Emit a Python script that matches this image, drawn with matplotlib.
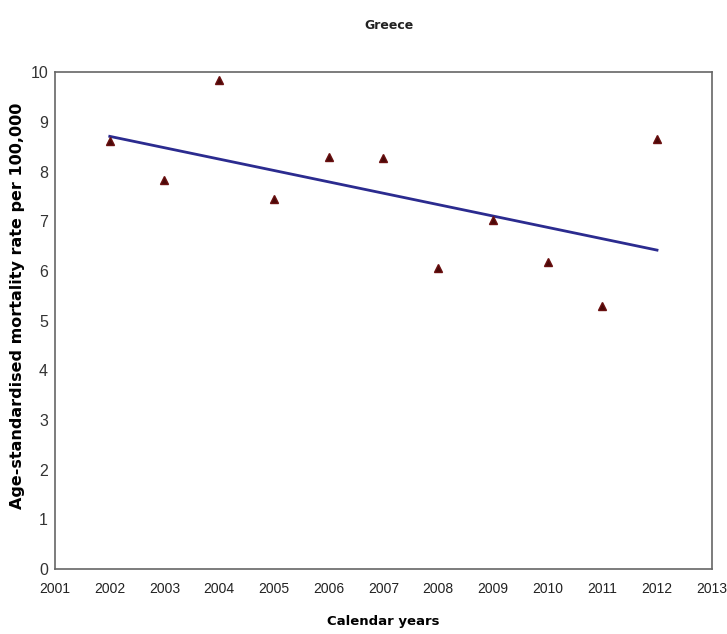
import matplotlib
matplotlib.use("Agg")
import matplotlib.pyplot as plt

# Data
years = [2002, 2003, 2004, 2005, 2006, 2007, 2008, 2009, 2010, 2011, 2012]
rates = [8.61, 7.83, 9.84, 7.44, 8.29, 8.27, 6.06, 7.02, 6.18, 5.29, 8.65]
trend_years = [2002, 2012]
trend_rates = [8.71, 6.42]
xticks = list(range(2001, 2014))
yticks = list(range(0, 11))

fig = plt.figure(figsize=(7.27, 6.34), dpi=100)
ax = fig.add_axes([0.0757, 0.1025, 0.9033, 0.7835])

ax.plot(trend_years, trend_rates, color="#2b2b8f", linewidth=2)
ax.plot(years, rates, linestyle="none", marker="^", markersize=6,
        color="#4a0808", markeredgecolor="#6a1010")

ax.set_xlim(2001, 2013)
ax.set_ylim(0, 10)
ax.set_xticks(xticks)
ax.set_yticks(yticks)
ax.set_xticklabels([str(x) for x in xticks], fontname="Liberation Sans", fontsize=10)
ax.set_yticklabels([str(y) for y in yticks], fontname="Liberation Sans", fontsize=11.5)
ax.tick_params(axis="x", length=0, pad=9, colors="#222222")
ax.tick_params(axis="y", length=0, pad=5, colors="#333333")
for s in ax.spines.values():
    s.set_color("#666666")
    s.set_linewidth(1.2)

ax.set_ylabel("Age-standardised mortality rate per 100,000", fontsize=11.5,
              fontweight="bold")
ax.yaxis.set_label_coords(-0.045, 0.53)
ax.set_xlabel("Calendar years", fontsize=9.5, fontweight="bold")
ax.xaxis.set_label_coords(0.5, -0.093)
fig.text(0.5355, 0.96, "Greece", ha="center", va="center", fontsize=9,
         fontweight="bold", color="#222222")

fig.savefig("out.png", dpi=100)
